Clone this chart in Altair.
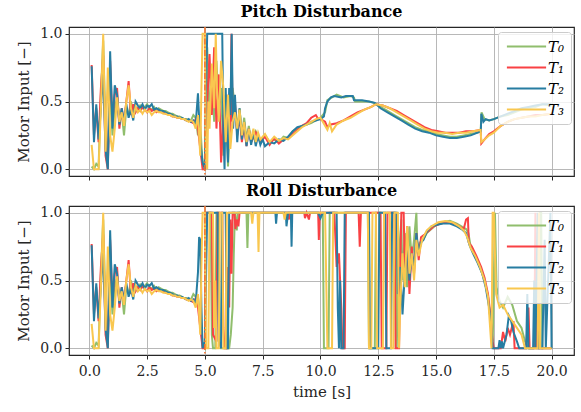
import altair as alt
import pandas as pd

SERIES = ["T₀", "T₁", "T₂", "T₃"]
COLORS = ["#90be6d", "#f94144", "#277da1", "#f9c74f"]
X_TICKS = [0.0, 2.5, 5.0, 7.5, 10.0, 12.5, 15.0, 17.5, 20.0]
Y_TICKS = [0.0, 0.5, 1.0]
DISTURBANCE_T = [5.0]

# shared pre-disturbance samples (identical in both experiments), t = 0.1 ... 4.6
PRE_T = [round(0.1 * i, 1) for i in range(1, 47)]
PRE_T0 = [0.02, 0.00, 0.04, 0.02, 0.55, 0.95, 0.30, 0.05, 0.60, 0.25,
          0.45, 0.53, 0.35, 0.42, 0.25, 0.45, 0.40, 0.50, 0.42, 0.46,
          0.44, 0.47, 0.45, 0.46, 0.48, 0.45, 0.44, 0.46, 0.43, 0.45,
          0.44, 0.43, 0.43, 0.42, 0.41, 0.41, 0.40, 0.39, 0.39, 0.38,
          0.37, 0.37, 0.36, 0.36, 0.40, 0.38]
PRE_T1 = [0.77, 0.25, 0.45, 0.20, 0.60, 0.84, 0.10, 0.00, 0.80, 0.35,
          0.55, 0.60, 0.30, 0.45, 0.35, 0.50, 0.65, 0.40, 0.48, 0.42,
          0.45, 0.43, 0.46, 0.44, 0.42, 0.45, 0.43, 0.44, 0.42, 0.43,
          0.42, 0.42, 0.41, 0.41, 0.40, 0.39, 0.39, 0.38, 0.38, 0.37,
          0.37, 0.36, 0.36, 0.35, 0.34, 0.37]
PRE_T2 = [0.76, 0.20, 0.48, 0.22, 0.45, 0.72, 0.15, 0.00, 0.87, 0.30,
          0.62, 0.55, 0.33, 0.45, 0.35, 0.48, 0.38, 0.44, 0.36, 0.50,
          0.47, 0.45, 0.48, 0.44, 0.47, 0.46, 0.48, 0.44, 0.45, 0.44,
          0.43, 0.43, 0.42, 0.41, 0.41, 0.40, 0.39, 0.39, 0.38, 0.38,
          0.37, 0.36, 0.37, 0.35, 0.36, 0.33]
PRE_T3 = [0.18, 0.00, 0.00, 0.00, 0.45, 1.00, 0.13, 0.75, 0.25, 0.13,
          0.30, 0.53, 0.35, 0.42, 0.32, 0.50, 0.62, 0.45, 0.38, 0.46,
          0.42, 0.44, 0.41, 0.44, 0.42, 0.43, 0.40, 0.42, 0.43, 0.42,
          0.42, 0.41, 0.41, 0.40, 0.40, 0.39, 0.39, 0.38, 0.38, 0.37,
          0.37, 0.36, 0.35, 0.36, 0.35, 0.30]

# pitch disturbance, t >= 4.7  (t, value)
PITCH_T0 = [(4.7, 0.25), (4.8, 0.32), (4.9, 0.05), (5.0, 0.05), (5.1, 0.9), (5.2, 0.4), (5.3, 0.7),
            (5.4, 0.35), (5.5, 0.8), (5.6, 0.45), (5.7, 0.6), (5.8, 0.1), (5.9, 0.55), (6.0, 0.02),
            (6.1, 0.45), (6.2, 0.6), (6.3, 0.45), (6.4, 0.3), (6.5, 0.45), (6.6, 0.25), (6.7, 0.38),
            (6.8, 0.22), (6.9, 0.32), (7.0, 0.2), (7.2, 0.28), (7.4, 0.2), (7.6, 0.25), (7.8, 0.2),
            (8.0, 0.22), (8.2, 0.2), (8.4, 0.24), (8.6, 0.23), (8.8, 0.28), (9.0, 0.3), (9.2, 0.32),
            (9.4, 0.33), (9.6, 0.34), (9.8, 0.36), (10.0, 0.38), (10.2, 0.42), (10.3, 0.51),
            (10.5, 0.53), (10.7, 0.55), (11.0, 0.53), (11.3, 0.54), (11.45, 0.53), (11.5, 0.5),
            (11.8, 0.5), (12.1, 0.5), (12.3, 0.49), (12.6, 0.46), (12.9, 0.43), (13.2, 0.40),
            (13.5, 0.37), (13.8, 0.34), (14.1, 0.31), (14.4, 0.29), (14.7, 0.28), (15.0, 0.26),
            (15.3, 0.25), (15.6, 0.24), (15.9, 0.24), (16.2, 0.25), (16.5, 0.26), (16.8, 0.27),
            (16.93, 0.28), (16.97, 0.42), (17.1, 0.37), (17.3, 0.36), (17.5, 0.37), (17.8, 0.39),
            (18.1, 0.40), (18.4, 0.42), (18.7, 0.44), (19.0, 0.45), (19.3, 0.46), (19.6, 0.48),
            (20.0, 0.47)]
PITCH_T1 = [(4.7, 0.30), (4.8, 0.15), (4.9, 0.0), (5.0, 0.0), (5.1, 0.5), (5.2, 0.85), (5.3, 0.4),
            (5.4, 0.9), (5.5, 0.3), (5.6, 0.7), (5.7, 0.05), (5.8, 0.4), (5.9, 0.2), (6.0, 0.55),
            (6.1, 0.2), (6.15, 1.0), (6.2, 0.35), (6.3, 0.5), (6.4, 0.25), (6.5, 0.4), (6.6, 0.2),
            (6.7, 0.33), (6.8, 0.17), (6.9, 0.3), (7.0, 0.2), (7.2, 0.27), (7.4, 0.2), (7.6, 0.24),
            (7.8, 0.18), (8.0, 0.23), (8.2, 0.19), (8.4, 0.22), (8.6, 0.23), (8.8, 0.26), (9.0, 0.29),
            (9.2, 0.32), (9.4, 0.34), (9.6, 0.38), (9.8, 0.40), (9.9, 0.37), (10.0, 0.37),
            (10.2, 0.35), (10.3, 0.31), (10.45, 0.33), (10.7, 0.34), (11.0, 0.36), (11.3, 0.39),
            (11.6, 0.42), (11.9, 0.44), (12.2, 0.46), (12.4, 0.48), (12.7, 0.47), (13.0, 0.45),
            (13.3, 0.43), (13.6, 0.40), (13.9, 0.37), (14.2, 0.34), (14.5, 0.31), (14.8, 0.29),
            (15.1, 0.28), (15.4, 0.27), (15.7, 0.27), (16.0, 0.27), (16.3, 0.28), (16.6, 0.28),
            (16.93, 0.29), (16.96, 0.19), (17.1, 0.22), (17.3, 0.26), (17.5, 0.28), (17.8, 0.32),
            (18.1, 0.35), (18.4, 0.37), (18.7, 0.38), (19.0, 0.39), (19.3, 0.40), (19.6, 0.40),
            (20.0, 0.41)]
PITCH_T2 = [(4.7, 0.56), (4.8, 0.2), (4.9, 0.05), (5.0, 0.0), (5.05, 0.6), (5.1, 1.0), (5.75, 1.0),
            (5.8, 0.3), (5.85, 0.0), (5.9, 0.6), (5.95, 0.25), (6.0, 0.05), (6.05, 0.6), (6.1, 0.4),
            (6.16, 1.0), (6.22, 0.3), (6.3, 0.55), (6.4, 0.2), (6.5, 0.45), (6.6, 0.22), (6.7, 0.35),
            (6.8, 0.17), (6.9, 0.3), (7.0, 0.18), (7.1, 0.28), (7.2, 0.17), (7.3, 0.25), (7.4, 0.18),
            (7.5, 0.22), (7.6, 0.17), (7.8, 0.2), (8.0, 0.19), (8.2, 0.22), (8.4, 0.21), (8.6, 0.24),
            (8.8, 0.28), (9.0, 0.31), (9.2, 0.32), (9.4, 0.33), (9.6, 0.35), (9.8, 0.36), (10.0, 0.37),
            (10.15, 0.39), (10.2, 0.45), (10.3, 0.50), (10.45, 0.53), (10.6, 0.54), (10.9, 0.53),
            (11.1, 0.54), (11.4, 0.54), (11.45, 0.51), (11.8, 0.51), (12.1, 0.5), (12.35, 0.49),
            (12.6, 0.45), (12.9, 0.42), (13.2, 0.39), (13.5, 0.36), (13.8, 0.33), (14.1, 0.3),
            (14.4, 0.28), (14.7, 0.27), (15.0, 0.25), (15.3, 0.24), (15.6, 0.23), (15.9, 0.23),
            (16.2, 0.24), (16.5, 0.25), (16.8, 0.27), (16.94, 0.28), (16.96, 0.41), (17.05, 0.35),
            (17.15, 0.37), (17.3, 0.36), (17.5, 0.37), (17.8, 0.39), (18.1, 0.41), (18.4, 0.43),
            (18.7, 0.45), (19.0, 0.46), (19.3, 0.47), (19.6, 0.48), (20.0, 0.48)]
PITCH_T3 = [(4.7, 0.40), (4.8, 0.10), (4.85, 0.6), (4.9, 1.0), (5.0, 1.0), (5.05, 0.05), (5.1, 0.0),
            (5.15, 0.5), (5.2, 0.3), (5.3, 0.78), (5.4, 0.45), (5.47, 1.0), (5.52, 0.6), (5.6, 0.35),
            (5.7, 0.8), (5.8, 0.6), (5.9, 0.2), (6.0, 0.55), (6.1, 0.15), (6.2, 0.35), (6.3, 0.42),
            (6.4, 0.3), (6.5, 0.44), (6.6, 0.25), (6.7, 0.35), (6.8, 0.2), (6.9, 0.3), (7.0, 0.22),
            (7.1, 0.3), (7.2, 0.2), (7.3, 0.27), (7.4, 0.22), (7.6, 0.26), (7.8, 0.2), (8.0, 0.24),
            (8.2, 0.21), (8.4, 0.23), (8.6, 0.22), (8.8, 0.25), (9.0, 0.28), (9.2, 0.31), (9.4, 0.33),
            (9.6, 0.35), (9.8, 0.37), (10.0, 0.38), (10.1, 0.35), (10.3, 0.29), (10.4, 0.34),
            (10.5, 0.28), (10.7, 0.33), (11.0, 0.36), (11.3, 0.38), (11.6, 0.41), (11.9, 0.44),
            (12.2, 0.46), (12.4, 0.48), (12.7, 0.47), (13.0, 0.45), (13.3, 0.42), (13.6, 0.39),
            (13.9, 0.36), (14.2, 0.33), (14.5, 0.30), (14.8, 0.28), (15.1, 0.27), (15.4, 0.27),
            (15.7, 0.26), (16.0, 0.27), (16.3, 0.27), (16.6, 0.28), (16.93, 0.29), (16.96, 0.20),
            (17.1, 0.22), (17.3, 0.25), (17.5, 0.27), (17.8, 0.32), (18.1, 0.35), (18.4, 0.37),
            (18.7, 0.38), (19.0, 0.39), (19.3, 0.39), (19.6, 0.40), (20.0, 0.41)]

# roll disturbance, t >= 4.7  (t, value)
ROLL_T0 = [(4.7, 0.38), (4.8, 0.25), (4.9, 0.02), (5.0, 0.0), (5.05, 1.0), (5.25, 1.0), (5.3, 0.1),
           (5.35, 0.0), (5.45, 0.0), (5.5, 1.0), (5.6, 1.0), (5.65, 0.05), (5.7, 0.0), (6.05, 0.0),
           (6.12, 0.1), (6.2, 0.3), (6.25, 0.7), (6.3, 1.0), (6.38, 0.87), (6.42, 1.0), (6.8, 1.0),
           (6.84, 0.74), (6.88, 1.0), (10.1, 1.0), (10.15, 0.0), (10.35, 0.0), (10.4, 1.0),
           (12.05, 1.0), (12.1, 0.0), (12.35, 0.0), (12.4, 1.0), (13.25, 1.0), (13.3, 0.0),
           (13.35, 0.4), (13.4, 0.7), (13.5, 0.95), (13.55, 0.5), (13.65, 0.85), (13.75, 0.45),
           (13.85, 0.9), (13.95, 0.65), (14.05, 0.8), (14.15, 1.0), (14.2, 0.7), (14.3, 0.78),
           (14.45, 0.8), (14.6, 0.85), (14.8, 0.88), (15.0, 0.91), (15.3, 0.93), (15.6, 0.94),
           (15.9, 0.92), (16.1, 0.9), (16.3, 0.88), (16.4, 0.85), (16.5, 0.75), (16.7, 0.68),
           (16.9, 0.6), (17.1, 0.5), (17.25, 0.38), (17.35, 0.22), (17.42, 0.05), (17.45, 0.0),
           (17.55, 1.0), (17.62, 0.45), (17.75, 0.35), (17.9, 0.3), (18.1, 0.38), (18.3, 0.32),
           (18.5, 0.2), (18.7, 0.15), (18.85, 0.05), (19.0, 0.0), (19.45, 0.0), (19.5, 1.0),
           (19.55, 1.0), (19.6, 0.0), (20.0, 0.0)]
ROLL_T1 = [(4.7, 0.30), (4.8, 0.15), (4.9, 0.0), (5.0, 0.0), (5.05, 1.0), (5.3, 1.0), (5.35, 0.1),
           (5.5, 0.05), (5.55, 1.0), (5.75, 1.0), (5.8, 0.15), (5.85, 0.0), (5.95, 0.0), (6.0, 0.6),
           (6.05, 0.3), (6.1, 0.95), (6.15, 0.55), (6.2, 1.0), (6.28, 1.0), (6.32, 0.88),
           (6.38, 0.95), (6.45, 0.9), (6.5, 1.0), (8.6, 1.0), (8.63, 0.95), (8.68, 1.0), (9.3, 1.0),
           (9.33, 0.96), (9.4, 1.0), (9.5, 0.95), (9.55, 1.0), (9.9, 1.0), (9.93, 0.8), (9.97, 1.0),
           (10.6, 1.0), (10.65, 0.8), (10.7, 0.6), (10.8, 0.7), (10.9, 0.3), (10.95, 0.0),
           (11.05, 0.0), (11.1, 1.0), (11.65, 1.0), (11.7, 0.75), (11.75, 1.0), (12.6, 1.0),
           (12.65, 0.0), (12.85, 0.0), (12.9, 1.0), (13.2, 1.0), (13.25, 0.0), (13.4, 0.0),
           (13.45, 0.6), (13.5, 1.0), (13.6, 1.0), (13.65, 0.55), (13.75, 0.9), (13.85, 0.4),
           (13.95, 0.75), (14.05, 0.55), (14.15, 0.85), (14.25, 0.65), (14.35, 0.82), (14.5, 0.84),
           (14.7, 0.87), (14.9, 0.9), (15.2, 0.92), (15.5, 0.93), (15.8, 0.92), (16.0, 0.9),
           (16.2, 0.88), (16.3, 0.95), (16.38, 0.96), (16.42, 0.78), (16.55, 0.75), (16.75, 0.68),
           (16.95, 0.6), (17.1, 0.52), (17.25, 0.4), (17.35, 0.25), (17.45, 0.05), (17.5, 0.0),
           (17.8, 0.0), (17.9, 0.12), (18.0, 0.05), (18.1, 0.15), (18.2, 0.1), (18.35, 0.2),
           (18.4, 0.0), (18.9, 0.0), (19.0, 0.3), (19.05, 0.0), (19.25, 0.0), (19.3, 1.0),
           (19.35, 0.0), (20.0, 0.0)]
ROLL_T2 = [(4.7, 0.56), (4.75, 0.82), (4.8, 0.8), (4.85, 0.3), (4.9, 0.0), (5.0, 0.05), (5.1, 1.0),
           (5.55, 1.0), (5.6, 0.05), (5.7, 0.0), (5.75, 1.0), (5.9, 1.0), (5.95, 0.0), (6.0, 0.0),
           (6.05, 1.0), (8.05, 1.0), (8.08, 0.92), (8.12, 1.0), (8.5, 1.0), (8.53, 0.9), (8.6, 1.0),
           (8.72, 1.0), (8.75, 0.75), (8.78, 1.0), (9.9, 1.0), (10.0, 0.96), (10.1, 1.0),
           (10.7, 1.0), (10.75, 0.3), (10.8, 0.0), (10.85, 0.5), (10.9, 0.0), (11.0, 0.0),
           (11.05, 1.0), (12.1, 1.0), (12.15, 0.0), (12.5, 0.0), (12.55, 1.0), (12.8, 1.0),
           (12.85, 0.0), (13.05, 0.0), (13.1, 1.0), (13.3, 1.0), (13.35, 0.4), (13.45, 0.6),
           (13.55, 0.25), (13.65, 0.55), (13.75, 0.75), (13.85, 0.5), (13.95, 0.7), (14.05, 0.6),
           (14.15, 0.85), (14.25, 0.7), (14.35, 0.78), (14.45, 0.8), (14.6, 0.86), (14.8, 0.9),
           (15.0, 0.91), (15.3, 0.92), (15.6, 0.92), (15.9, 0.9), (16.1, 0.88), (16.3, 0.85),
           (16.45, 0.76), (16.6, 0.7), (16.8, 0.63), (17.0, 0.55), (17.15, 0.45), (17.3, 0.3),
           (17.4, 0.15), (17.45, 0.0), (17.7, 0.0), (17.75, 0.06), (17.8, 0.0), (17.85, 0.05),
           (17.9, 0.0), (18.05, 0.1), (18.15, 0.24), (18.25, 0.2), (18.35, 0.12), (18.5, 0.05),
           (18.6, 0.0), (18.9, 0.0), (18.95, 0.4), (19.0, 0.0), (19.2, 0.0), (19.25, 0.5),
           (19.3, 0.0), (19.4, 1.0), (19.45, 0.0), (19.6, 0.0), (19.7, 0.8), (19.75, 0.0),
           (19.95, 1.0), (20.0, 0.0)]
ROLL_T3 = [(4.7, 0.40), (4.8, 0.1), (4.85, 0.6), (4.9, 1.0), (5.0, 1.0), (5.05, 0.0), (5.15, 0.0),
           (5.2, 1.0), (5.35, 1.0), (5.4, 0.15), (5.45, 0.5), (5.5, 0.0), (5.6, 0.0), (5.65, 1.0),
           (5.75, 1.0), (5.8, 0.0), (5.9, 0.0), (5.95, 1.0), (7.0, 1.0), (7.05, 0.92), (7.1, 1.0),
           (7.28, 1.0), (7.32, 0.71), (7.36, 1.0), (8.4, 1.0), (8.45, 0.95), (8.5, 1.0),
           (10.2, 1.0), (10.25, 0.5), (10.3, 0.0), (10.5, 0.0), (10.55, 1.0), (12.05, 1.0),
           (12.1, 0.0), (12.2, 0.0), (12.25, 1.0), (12.4, 1.0), (12.45, 0.0), (12.7, 0.0),
           (12.75, 1.0), (13.0, 1.0), (13.05, 0.0), (13.15, 0.0), (13.2, 1.0), (13.35, 1.0),
           (13.4, 0.0), (13.45, 0.3), (13.55, 0.7), (13.65, 0.45), (13.75, 0.9), (13.85, 0.55),
           (13.95, 0.7), (14.05, 0.5), (14.15, 0.8), (14.25, 0.68), (14.4, 0.8), (14.6, 0.87),
           (14.8, 0.9), (15.1, 0.93), (15.4, 0.94), (15.7, 0.93), (16.0, 0.9), (16.2, 0.87),
           (16.35, 0.82), (16.5, 0.74), (16.7, 0.68), (16.9, 0.6), (17.1, 0.5), (17.25, 0.38),
           (17.4, 0.0), (17.45, 1.0), (17.5, 1.0), (17.6, 0.4), (17.75, 0.3), (17.9, 0.32),
           (18.1, 0.25), (18.3, 0.2), (18.5, 0.15), (18.7, 0.1), (18.85, 0.0), (19.4, 0.0),
           (19.45, 1.0), (19.5, 0.0), (20.0, 0.0)]

PRE = [PRE_T0, PRE_T1, PRE_T2, PRE_T3]
PITCH = [PITCH_T0, PITCH_T1, PITCH_T2, PITCH_T3]
ROLL = [ROLL_T0, ROLL_T1, ROLL_T2, ROLL_T3]


def build(post_lists):
    rows = []
    for name, pre, post in zip(SERIES, PRE, post_lists):
        for t, v in zip(PRE_T, pre):
            rows.append({"t": t, "v": v, "series": name})
        for t, v in post:
            rows.append({"t": t, "v": v, "series": name})
    return pd.DataFrame(rows)


FONT = "DejaVu Serif"
W, H = 505, 149


def panel(df, title, bottom):
    lines = alt.Chart(df).mark_line(strokeWidth=2, clip=True).encode(
        x=alt.X("t:Q",
                scale=alt.Scale(domain=[-0.88, 20.97], nice=False, zero=False),
                axis=alt.Axis(values=X_TICKS, format=".1f", labels=bottom,
                              title="time [s]" if bottom else None)),
        y=alt.Y("v:Q",
                scale=alt.Scale(domain=[-0.05, 1.05], nice=False, zero=False),
                axis=alt.Axis(values=Y_TICKS, format=".1f", title="Motor Input [−]")),
        color=alt.Color("series:N",
                        scale=alt.Scale(domain=SERIES, range=COLORS),
                        legend=alt.Legend(orient="none", legendX=429, legendY=5, title=None,
                                          symbolType="M-2.8,0H2.8", symbolSize=196,
                                          symbolStrokeWidth=2.2, symbolOffset=14,
                                          labelFont=FONT, labelFontStyle="italic",
                                          labelFontSize=15, labelOffset=13,
                                          fillColor="rgba(255,255,255,0.8)",
                                          strokeColor="#cccccc", cornerRadius=3,
                                          padding=6, rowPadding=4)),
        order="t:Q",
    )
    rule = alt.Chart(pd.DataFrame({"t": DISTURBANCE_T})).mark_rule(
        color="#f3722c", strokeWidth=1.5, strokeDash=[6, 2, 1.5, 2]
    ).encode(x="t:Q")
    return alt.layer(lines, rule).properties(
        width=W, height=H,
        title=alt.TitleParams(title, font=FONT, fontSize=16, fontWeight="bold", offset=6),
    )


p1 = panel(build(PITCH), "Pitch Disturbance", False)
p2 = panel(build(ROLL), "Roll Disturbance", True)

chart = alt.vconcat(p1, p2, spacing=0).resolve_scale(color="independent").resolve_legend(
    color="independent"
).configure(
    font=FONT, background="white", padding={"left": 16, "top": 3, "right": 5, "bottom": 5}
).configure_view(
    stroke="#262626", strokeWidth=1.2
).configure_axis(
    labelFont=FONT, titleFont=FONT, labelFontSize=14, titleFontSize=15,
    titleFontWeight="normal",
    labelColor="#262626", titleColor="#262626", domain=False,
    grid=True, gridColor="#b0b0b0", gridWidth=0.9,
    tickColor="#262626", tickSize=4, tickWidth=1, labelPadding=3,
).configure_axisY(
    titlePadding=8
).configure_axisX(
    labelPadding=5, titlePadding=6
)

chart.save("out.html", embed_options={"renderer": "svg", "actions": False})
